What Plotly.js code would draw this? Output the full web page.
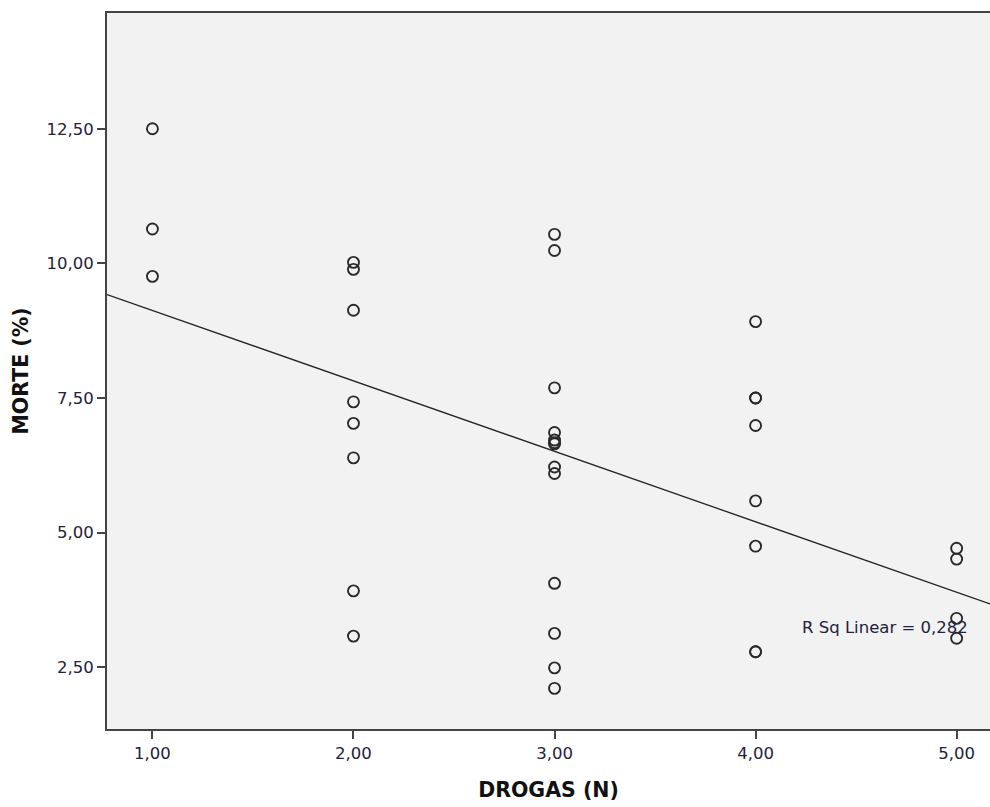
<!DOCTYPE html>
<html>
<head>
<meta charset="utf-8">
<script src="https://cdn.plot.ly/plotly-3.0.1.min.js"></script>
<style>html,body{margin:0;padding:0;background:#fff;}#chart{width:990px;height:807px;}</style>
</head>
<body>
<div id="chart"></div>
<script>
// DROGAS (N) for each observation
const drogas = [
  1, 1, 1,
  2, 2, 2, 2, 2, 2, 2, 2,
  3, 3, 3, 3, 3, 3, 3, 3, 3, 3, 3, 3, 3,
  4, 4, 4, 4, 4, 4, 4, 4,
  5, 5, 5, 5
];
// MORTE (%) for each observation
const morte = [
  12.50, 10.64, 9.76,
  10.02, 9.89, 9.13, 7.43, 7.03, 6.39, 3.92, 3.08,
  10.54, 10.24, 7.69, 6.86, 6.72, 6.67, 6.65, 6.22, 6.10, 4.06, 3.13, 2.49, 2.11,
  8.92, 7.50, 7.50, 6.99, 5.59, 4.75, 2.79, 2.79,
  4.71, 4.51, 3.41, 3.04
];
const xTickVals = [1, 2, 3, 4, 5];
const yTickVals = [2.5, 5, 7.5, 10, 12.5];
const xRange = [0.774, 5.166];
const yRange = [1.355, 14.65];
const rsqLabel = "R Sq Linear = 0,282";

// least squares fit
const n = drogas.length;
const mx = drogas.reduce((a, b) => a + b, 0) / n;
const my = morte.reduce((a, b) => a + b, 0) / n;
let sxx = 0, sxy = 0;
for (let i = 0; i < n; i++) { sxx += (drogas[i] - mx) ** 2; sxy += (drogas[i] - mx) * (morte[i] - my); }
const slope = sxy / sxx;
const intercept = my - slope * mx;
const fitX = xRange.slice();
const fitY = fitX.map(x => intercept + slope * x);

const tickFont = {family: "DejaVu Sans, sans-serif", size: 16.5, color: "#22223a"};
const titleFont = {family: "DejaVu Sans, sans-serif", size: 20.5, color: "#111", weight: "bold"};

const data = [
  {
    x: drogas, y: morte, type: "scatter", mode: "markers",
    marker: {symbol: "circle-open", size: 11, color: "#2a2a2a", line: {width: 1.9, color: "#2a2a2a"}},
    hoverinfo: "x+y", showlegend: false
  },
  {
    x: fitX, y: fitY, type: "scatter", mode: "lines",
    line: {color: "#222", width: 1.3}, hoverinfo: "skip", showlegend: false
  }
];

const layout = {
  width: 990, height: 807,
  margin: {l: 107, r: 0, t: 13, b: 78},
  paper_bgcolor: "#ffffff",
  plot_bgcolor: "#f2f2f2",
  separators: ",.",
  showlegend: false,
  xaxis: {
    range: xRange, tickvals: xTickVals, tickformat: ".2f",
    ticks: "outside", ticklen: 8, tickwidth: 2, tickcolor: "#444",
    showgrid: false, zeroline: false,
    showline: true, linecolor: "#444", linewidth: 2, mirror: true,
    tickfont: tickFont,
    title: {text: "DROGAS (N)", font: titleFont, standoff: 21}
  },
  yaxis: {
    range: yRange, tickvals: yTickVals, tickformat: ".2f",
    ticks: "outside", ticklen: 8, tickwidth: 2, tickcolor: "#444",
    showgrid: false, zeroline: false,
    showline: true, linecolor: "#444", linewidth: 2, mirror: true,
    tickfont: tickFont,
    title: {text: "MORTE (%)", font: titleFont, standoff: 12}
  },
  annotations: [{
    x: 4.22, y: 3.24, xref: "x", yref: "y", text: rsqLabel, showarrow: false,
    xanchor: "left", yanchor: "middle",
    font: {family: "DejaVu Sans, sans-serif", size: 16.5, color: "#22223a"}
  }]
};

Plotly.newPlot("chart", data, layout, {displayModeBar: false, staticPlot: true});
</script>
</body>
</html>
